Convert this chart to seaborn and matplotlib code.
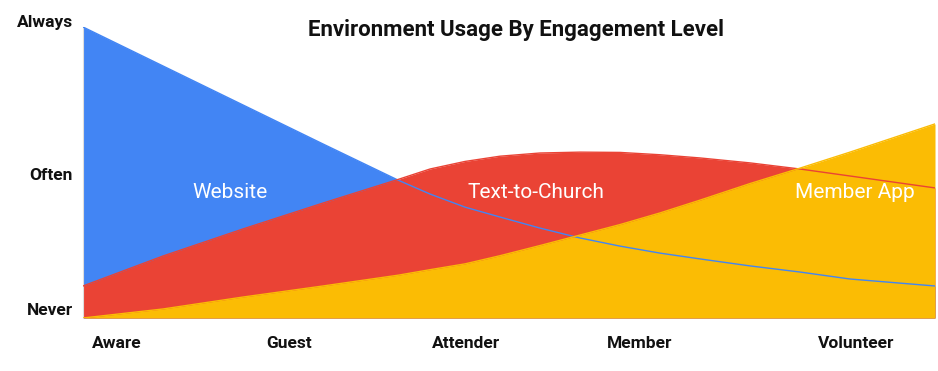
import matplotlib
matplotlib.use("Agg")
import matplotlib.pyplot as plt
import matplotlib.transforms as mtransforms
import seaborn as sns
import pandas as pd

sns.set_theme(style="white")
plt.rcParams['font.family'] = ['Roboto', 'DejaVu Sans']

# progress along the engagement journey (0 = start of Aware, 1 = end of Volunteer)
progress = [0.0000, 0.0939, 0.1878, 0.2817, 0.3697, 0.4073, 0.4484, 0.4894, 0.5364,
            0.5833, 0.6303, 0.6772, 0.7242, 0.7829, 0.8415, 0.9002, 1.0000]
website = [1.000, 0.866, 0.732, 0.598, 0.474, 0.426, 0.381, 0.347, 0.309,
           0.275, 0.247, 0.223, 0.203, 0.179, 0.158, 0.134, 0.110]
text_to_church = [0.110, 0.213, 0.306, 0.395, 0.476, 0.512, 0.538, 0.556, 0.567,
                  0.570, 0.569, 0.561, 0.550, 0.533, 0.512, 0.488, 0.447]
member_app = [0.000, 0.031, 0.072, 0.110, 0.147, 0.166, 0.186, 0.214, 0.249,
              0.285, 0.321, 0.361, 0.405, 0.462, 0.515, 0.570, 0.667]

series_names = ["Website", "Text-to-Church", "Member App"]
colors = ["#4285F4", "#EA4335", "#FBBC04"]

stages = ["Aware", "Guest", "Attender", "Member", "Volunteer"]
stage_pos = [0.040, 0.242, 0.450, 0.653, 0.908]

levels = ["Never", "Often", "Always"]
level_pos = [0.025, 0.491, 1.017]

title = "Environment Usage By Engagement Level"

df = pd.DataFrame({"progress": progress, "Website": website,
                   "Text-to-Church": text_to_church, "Member App": member_app})
long = df.melt(id_vars="progress", var_name="app", value_name="usage")

fig = plt.figure(figsize=(9.38, 3.71), dpi=100)
ax = fig.add_axes([83/938, 1-318/371, 852/938, 291/371])

for name, c in zip(series_names, colors):
    ax.fill_between(df["progress"], 0, df[name], color=c, linewidth=0, zorder=1)

sns.lineplot(data=long, x="progress", y="usage", hue="app", hue_order=series_names,
             palette=colors, linewidth=1.0, legend=False, ax=ax, zorder=3)

ax.set_xlabel("")
ax.set_ylabel("")

ax.set_xticks(stage_pos)
ax.set_xticklabels(stages, fontsize=12.5, fontweight="bold", color="#111111")
ax.set_yticks([])
ax.tick_params(axis="x", length=0, pad=13)
ax.set_xlim(0, 1)
ax.set_ylim(0, 1)

trans = mtransforms.offset_copy(
    mtransforms.blended_transform_factory(ax.transAxes, ax.transData),
    fig=fig, x=-10, y=0, units="dots")
for lab, yv in zip(levels, level_pos):
    ax.text(0, yv, lab, transform=trans, ha="right", va="center",
            fontsize=12.5, fontweight="bold", color="#111111", clip_on=False)

for s in ["top", "right", "bottom"]:
    ax.spines[s].set_visible(False)
ax.spines["left"].set_color("#dddddd")
ax.spines["left"].set_linewidth(0.8)
ax.grid(False)

label_pos = [(230, 193), (536, 193), (855, 193)]
for name, (px, py) in zip(series_names, label_pos):
    fig.text(px/938, 1-py/371, name, color="white", fontsize=15,
             ha="center", va="center", zorder=5)

fig.text(516/938, 1-30/371, title, fontsize=16, fontweight="bold",
         ha="center", va="center", color="#111111")

fig.savefig("out.png", dpi=100)
